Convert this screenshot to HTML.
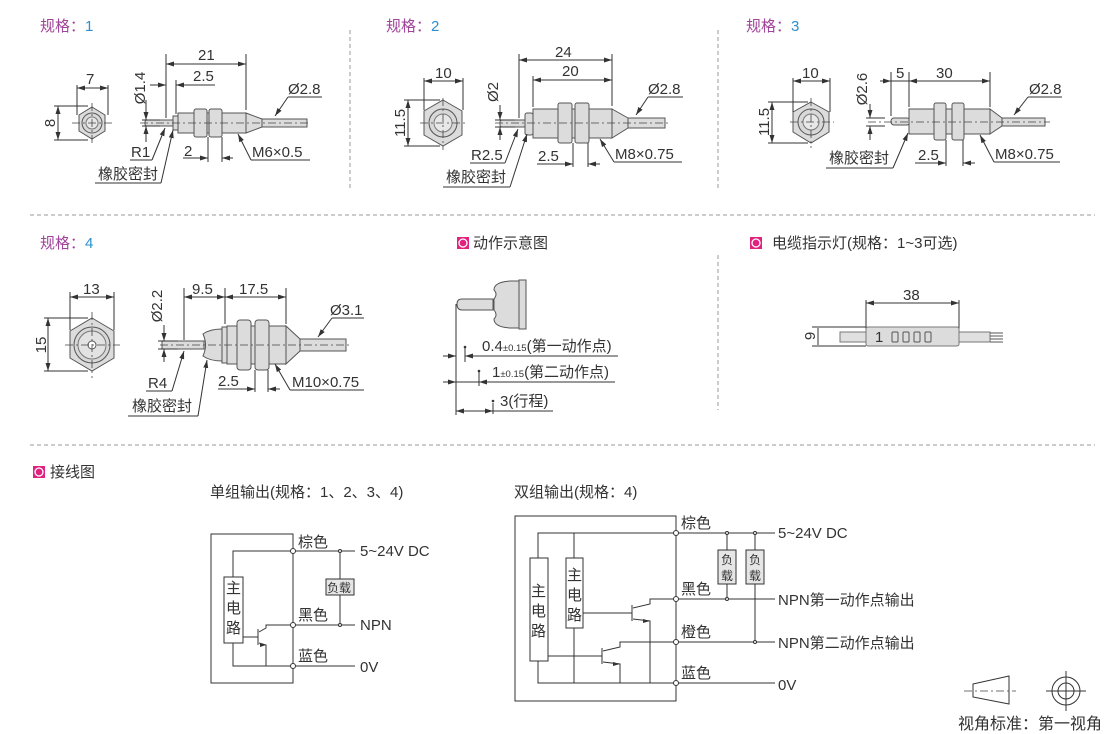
<!DOCTYPE html>
<html><head><meta charset="utf-8"><style>
html,body{margin:0;padding:0;background:#fff;}
svg{display:block;font-family:"Liberation Sans","Noto Sans CJK SC",sans-serif;}
.t{font-size:15px;fill:#333;}
.s{font-size:9.5px;fill:#333;}
.h{font-size:15px;fill:#333;}
.p{fill:#a0449a;font-size:15px;}
.b{fill:#2b8fd0;font-size:15px;}
.l{stroke:#333;stroke-width:1;fill:none;}
.d{stroke:#999;stroke-width:1;stroke-dasharray:4 3;fill:none;}
.c{stroke:#444;stroke-width:0.8;stroke-dasharray:8 3 2 3;fill:none;}
.bd{fill:#dcdcdc;stroke:#555;stroke-width:1;}
</style></head><body>
<svg width="1110" height="734" viewBox="0 0 1110 734" xmlns="http://www.w3.org/2000/svg">
<defs>
<marker id="a" markerWidth="8" markerHeight="6" refX="8" refY="3" orient="auto-start-reverse" markerUnits="userSpaceOnUse"><path d="M0,0.5 L8,3 L0,5.5z" fill="#333"/></marker>
<g id="icon"><rect x="0" y="0" width="12" height="12" fill="#e0237f"/><circle cx="6" cy="6" r="4" fill="none" stroke="#fff" stroke-width="1.3"/></g>
</defs>

<line class="d" x1="350" y1="30" x2="350" y2="188"/>
<line class="d" x1="718" y1="30" x2="718" y2="188"/>
<line class="d" x1="30" y1="215" x2="1095" y2="215"/>
<line class="d" x1="718" y1="255" x2="718" y2="410"/>
<line class="d" x1="30" y1="445" x2="1095" y2="445"/>

<text x="40" y="31" class="p">规格：<tspan class="b">1</tspan></text>
<text x="386" y="31" class="p">规格：<tspan class="b">2</tspan></text>
<text x="746" y="31" class="p">规格：<tspan class="b">3</tspan></text>
<text x="40" y="248" class="p">规格：<tspan class="b">4</tspan></text>
<use href="#icon" x="457" y="237"/><text x="473" y="248" class="h">动作示意图</text>
<use href="#icon" x="750" y="237"/><text x="772" y="248" class="h">电缆指示灯(规格：1~3可选)</text>
<use href="#icon" x="33" y="466"/><text x="50" y="477" class="h">接线图</text>

<!-- SPEC 1 -->
<polygon class="bd" points="92,107 105,115 105,131 92,139 79,131 79,115" fill="#e6e6e6"/>
<circle cx="92" cy="123" r="10" fill="#d8d8d8" stroke="#555"/><circle cx="92" cy="123" r="6" fill="#e8e8e8" stroke="#777"/>
<line class="c" x1="72" y1="123" x2="112" y2="123"/><line class="c" x1="92" y1="103" x2="92" y2="143"/>
<line class="l" x1="77" y1="85" x2="77" y2="115"/><line class="l" x1="108" y1="85" x2="108" y2="115"/>
<line class="l" x1="77" y1="88" x2="108" y2="88" marker-start="url(#a)" marker-end="url(#a)"/>
<text x="86" y="84" class="t">7</text>
<line class="l" x1="54" y1="106" x2="88" y2="106"/><line class="l" x1="54" y1="140" x2="88" y2="140"/>
<line class="l" x1="58" y1="106" x2="58" y2="140" marker-start="url(#a)" marker-end="url(#a)"/>
<text transform="translate(55,123) rotate(-90)" class="t" text-anchor="middle">8</text>
<rect class="bd" x="145" y="120" width="30" height="6" rx="2"/>
<rect class="bd" x="173" y="116" width="6" height="14"/>
<rect class="bd" x="178" y="113" width="68" height="20"/>
<rect class="bd" x="194" y="109" width="13" height="28" rx="2"/>
<rect class="bd" x="209" y="109" width="13" height="28" rx="2"/>
<polygon class="bd" points="246,113 262,119 262,127 246,133"/>
<rect class="bd" x="262" y="119" width="45" height="8"/>
<line class="c" x1="140" y1="123" x2="310" y2="123"/>
<line class="l" x1="166" y1="54" x2="166" y2="118"/><line class="l" x1="246" y1="54" x2="246" y2="110"/>
<line class="l" x1="166" y1="64" x2="246" y2="64" marker-start="url(#a)" marker-end="url(#a)"/>
<text x="198" y="60" class="t">21</text>
<line class="l" x1="176" y1="80" x2="176" y2="114"/>
<line class="l" x1="150" y1="85" x2="166" y2="85" marker-end="url(#a)"/><line class="l" x1="190" y1="85" x2="176" y2="85" marker-end="url(#a)"/>
<line class="l" x1="176" y1="85" x2="215" y2="85"/>
<text x="193" y="81" class="t">2.5</text>
<line class="l" x1="142" y1="120" x2="160" y2="120"/><line class="l" x1="142" y1="126" x2="160" y2="126"/>
<line class="l" x1="146" y1="100" x2="146" y2="120" marker-end="url(#a)"/><line class="l" x1="146" y1="142" x2="146" y2="126" marker-end="url(#a)"/>
<text transform="translate(145,88) rotate(-90)" class="t" text-anchor="middle">Ø1.4</text>
<line class="l" x1="130" y1="160" x2="152" y2="160"/><line class="l" x1="152" y1="160" x2="165" y2="128" marker-end="url(#a)"/>
<text x="131" y="157" class="t">R1</text>
<line class="l" x1="95" y1="183" x2="161" y2="183"/><line class="l" x1="161" y1="183" x2="173" y2="130" marker-end="url(#a)"/>
<text x="98" y="179" class="t">橡胶密封</text>
<line class="l" x1="208" y1="137" x2="208" y2="162"/><line class="l" x1="222" y1="137" x2="222" y2="162"/>
<line class="l" x1="183" y1="158" x2="208" y2="158" marker-end="url(#a)"/><line class="l" x1="233" y1="158" x2="222" y2="158" marker-end="url(#a)"/>
<text x="184" y="156" class="t">2</text>
<line class="l" x1="238" y1="134" x2="251" y2="160" marker-start="url(#a)"/><line class="l" x1="251" y1="160" x2="310" y2="160"/>
<text x="252" y="157" class="t">M6×0.5</text>
<line class="l" x1="275" y1="116" x2="288" y2="97" marker-start="url(#a)"/><line class="l" x1="288" y1="97" x2="322" y2="97"/>
<text x="288" y="94" class="t">Ø2.8</text>

<!-- SPEC 2 -->
<polygon class="bd" points="443,100 462,111 462,135 443,146 424,135 424,111" fill="#e6e6e6"/>
<circle cx="443" cy="123" r="14" fill="#d8d8d8" stroke="#555"/><circle cx="443" cy="123" r="9" fill="#e8e8e8" stroke="#777"/>
<line class="c" x1="420" y1="123" x2="468" y2="123"/><line class="c" x1="443" y1="98" x2="443" y2="150"/>
<line class="l" x1="424" y1="78" x2="424" y2="110"/><line class="l" x1="463" y1="78" x2="463" y2="110"/>
<line class="l" x1="424" y1="81" x2="463" y2="81" marker-start="url(#a)" marker-end="url(#a)"/>
<text x="435" y="78" class="t">10</text>
<line class="l" x1="404" y1="100" x2="440" y2="100"/><line class="l" x1="404" y1="146" x2="440" y2="146"/>
<line class="l" x1="408" y1="100" x2="408" y2="146" marker-start="url(#a)" marker-end="url(#a)"/>
<text transform="translate(405,123) rotate(-90)" class="t" text-anchor="middle">11.5</text>
<rect class="bd" x="500" y="120" width="26" height="7" rx="2"/>
<rect class="bd" x="525" y="113" width="8" height="22" rx="2"/>
<rect class="bd" x="533" y="109" width="79" height="29"/>
<rect class="bd" x="558" y="103" width="14" height="40" rx="2"/>
<rect class="bd" x="575" y="103" width="14" height="40" rx="2"/>
<polygon class="bd" points="612,109 628,118 628,128 612,138"/>
<rect class="bd" x="628" y="118" width="37" height="10"/>
<line class="c" x1="495" y1="123" x2="670" y2="123"/>
<line class="l" x1="519" y1="54" x2="519" y2="118"/><line class="l" x1="612" y1="54" x2="612" y2="106"/>
<line class="l" x1="519" y1="60" x2="612" y2="60" marker-start="url(#a)" marker-end="url(#a)"/>
<text x="555" y="57" class="t">24</text>
<line class="l" x1="533" y1="76" x2="533" y2="107"/>
<line class="l" x1="533" y1="80" x2="612" y2="80" marker-start="url(#a)" marker-end="url(#a)"/>
<text x="562" y="76" class="t">20</text>
<line class="l" x1="495" y1="120" x2="515" y2="120"/><line class="l" x1="495" y1="127" x2="515" y2="127"/>
<line class="l" x1="500" y1="105" x2="500" y2="120" marker-end="url(#a)"/><line class="l" x1="500" y1="140" x2="500" y2="127" marker-end="url(#a)"/>
<text transform="translate(498,92) rotate(-90)" class="t" text-anchor="middle">Ø2</text>
<line class="l" x1="470" y1="163" x2="505" y2="163"/><line class="l" x1="505" y1="163" x2="518" y2="129" marker-end="url(#a)"/>
<text x="471" y="160" class="t">R2.5</text>
<line class="l" x1="443" y1="187" x2="510" y2="187"/><line class="l" x1="510" y1="187" x2="527" y2="134" marker-end="url(#a)"/>
<text x="446" y="182" class="t">橡胶密封</text>
<line class="l" x1="573" y1="143" x2="573" y2="167"/><line class="l" x1="588" y1="143" x2="588" y2="167"/>
<line class="l" x1="537" y1="164" x2="573" y2="164" marker-end="url(#a)"/><line class="l" x1="600" y1="164" x2="588" y2="164" marker-end="url(#a)"/>
<text x="538" y="161" class="t">2.5</text>
<line class="l" x1="600" y1="139" x2="614" y2="162" marker-start="url(#a)"/><line class="l" x1="614" y1="162" x2="682" y2="162"/>
<text x="615" y="159" class="t">M8×0.75</text>
<line class="l" x1="636" y1="115" x2="648" y2="97" marker-start="url(#a)"/><line class="l" x1="648" y1="97" x2="683" y2="97"/>
<text x="648" y="94" class="t">Ø2.8</text>

<!-- SPEC 3 -->
<polygon class="bd" points="811,102 829,112 829,132 811,143 793,132 793,112" fill="#e6e6e6"/>
<circle cx="811" cy="122" r="13" fill="#d8d8d8" stroke="#555"/><circle cx="811" cy="122" r="8" fill="#e8e8e8" stroke="#777"/>
<line class="c" x1="790" y1="122" x2="834" y2="122"/><line class="c" x1="811" y1="98" x2="811" y2="148"/>
<line class="l" x1="793" y1="78" x2="793" y2="112"/><line class="l" x1="830" y1="78" x2="830" y2="112"/>
<line class="l" x1="793" y1="81" x2="830" y2="81" marker-start="url(#a)" marker-end="url(#a)"/>
<text x="802" y="78" class="t">10</text>
<line class="l" x1="768" y1="102" x2="808" y2="102"/><line class="l" x1="768" y1="143" x2="808" y2="143"/>
<line class="l" x1="772" y1="102" x2="772" y2="143" marker-start="url(#a)" marker-end="url(#a)"/>
<text transform="translate(769,122) rotate(-90)" class="t" text-anchor="middle">11.5</text>
<rect class="bd" x="891" y="118" width="19" height="7" rx="3"/>
<rect class="bd" x="909" y="109" width="81" height="25"/>
<rect class="bd" x="934" y="103" width="12" height="37" rx="2"/>
<rect class="bd" x="952" y="103" width="12" height="37" rx="2"/>
<polygon class="bd" points="990,109 1002,118 1002,126 990,134"/>
<rect class="bd" x="1002" y="118" width="43" height="8"/>
<line class="c" x1="868" y1="122" x2="1050" y2="122"/>
<line class="l" x1="891" y1="72" x2="891" y2="116"/><line class="l" x1="909" y1="72" x2="909" y2="107"/><line class="l" x1="990" y1="72" x2="990" y2="107"/>
<line class="l" x1="880" y1="81" x2="891" y2="81" marker-end="url(#a)"/><line class="l" x1="909" y1="81" x2="990" y2="81" marker-start="url(#a)" marker-end="url(#a)"/>
<line class="l" x1="891" y1="81" x2="909" y2="81"/>
<text x="896" y="78" class="t">5</text><text x="936" y="78" class="t">30</text>
<line class="l" x1="866" y1="118" x2="885" y2="118"/><line class="l" x1="866" y1="126" x2="885" y2="126"/>
<line class="l" x1="870" y1="104" x2="870" y2="118" marker-end="url(#a)"/><line class="l" x1="870" y1="140" x2="870" y2="126" marker-end="url(#a)"/>
<text transform="translate(867,89) rotate(-90)" class="t" text-anchor="middle">Ø2.6</text>
<line class="l" x1="826" y1="168" x2="893" y2="168"/><line class="l" x1="893" y1="168" x2="908" y2="133" marker-end="url(#a)"/>
<text x="829" y="163" class="t">橡胶密封</text>
<line class="l" x1="946" y1="140" x2="946" y2="166"/><line class="l" x1="963" y1="140" x2="963" y2="166"/>
<line class="l" x1="915" y1="163" x2="946" y2="163" marker-end="url(#a)"/><line class="l" x1="975" y1="163" x2="963" y2="163" marker-end="url(#a)"/>
<text x="918" y="160" class="t">2.5</text>
<line class="l" x1="980" y1="135" x2="994" y2="162" marker-start="url(#a)"/><line class="l" x1="994" y1="162" x2="1060" y2="162"/>
<text x="995" y="159" class="t">M8×0.75</text>
<line class="l" x1="1014" y1="115" x2="1028" y2="97" marker-start="url(#a)"/><line class="l" x1="1028" y1="97" x2="1062" y2="97"/>
<text x="1029" y="94" class="t">Ø2.8</text>

<!-- SPEC 4 -->
<polygon class="bd" points="92,318 114,331 114,358 92,371 70,358 70,331" fill="#e6e6e6"/>
<circle cx="92" cy="345" r="18" fill="#d8d8d8" stroke="#555"/><circle cx="92" cy="345" r="14" fill="#e2e2e2" stroke="#777"/><circle cx="92" cy="345" r="4" fill="#fff" stroke="#555"/>
<line class="c" x1="65" y1="345" x2="120" y2="345"/><line class="c" x1="92" y1="312" x2="92" y2="378"/>
<line class="l" x1="70" y1="292" x2="70" y2="330"/><line class="l" x1="114" y1="292" x2="114" y2="330"/>
<line class="l" x1="70" y1="297" x2="114" y2="297" marker-start="url(#a)" marker-end="url(#a)"/>
<text x="83" y="294" class="t">13</text>
<line class="l" x1="44" y1="318" x2="88" y2="318"/><line class="l" x1="44" y1="371" x2="88" y2="371"/>
<line class="l" x1="48" y1="318" x2="48" y2="371" marker-start="url(#a)" marker-end="url(#a)"/>
<text transform="translate(46,345) rotate(-90)" class="t" text-anchor="middle">15</text>
<rect class="bd" x="162" y="341" width="42" height="8"/>
<path class="bd" d="M203,334 Q210,329 222,329 L222,361 Q210,361 203,356 Q208,345 203,334z"/>
<rect class="bd" x="222" y="327" width="6" height="36"/>
<rect class="bd" x="227" y="326" width="59" height="38"/>
<rect class="bd" x="237" y="320" width="14" height="50" rx="3"/>
<rect class="bd" x="255" y="320" width="14" height="50" rx="3"/>
<polygon class="bd" points="286,326 300,339 300,351 286,364"/>
<rect class="bd" x="300" y="339" width="46" height="12"/>
<line class="c" x1="160" y1="345" x2="350" y2="345"/>
<line class="l" x1="184" y1="288" x2="184" y2="340"/><line class="l" x1="225" y1="288" x2="225" y2="324"/><line class="l" x1="286" y1="288" x2="286" y2="324"/>
<line class="l" x1="184" y1="297" x2="225" y2="297" marker-start="url(#a)" marker-end="url(#a)"/>
<line class="l" x1="225" y1="297" x2="286" y2="297" marker-start="url(#a)" marker-end="url(#a)"/>
<text x="192" y="294" class="t">9.5</text><text x="239" y="294" class="t">17.5</text>
<line class="l" x1="158" y1="341" x2="178" y2="341"/><line class="l" x1="158" y1="349" x2="178" y2="349"/>
<line class="l" x1="164" y1="325" x2="164" y2="341" marker-end="url(#a)"/><line class="l" x1="164" y1="362" x2="164" y2="349" marker-end="url(#a)"/>
<text transform="translate(162,306) rotate(-90)" class="t" text-anchor="middle">Ø2.2</text>
<line class="l" x1="146" y1="391" x2="172" y2="391"/><line class="l" x1="172" y1="391" x2="184" y2="351" marker-end="url(#a)"/>
<text x="148" y="388" class="t">R4</text>
<line class="l" x1="128" y1="416" x2="198" y2="416"/><line class="l" x1="198" y1="416" x2="207" y2="360" marker-end="url(#a)"/>
<text x="132" y="411" class="t">橡胶密封</text>
<line class="l" x1="255" y1="370" x2="255" y2="392"/><line class="l" x1="268" y1="370" x2="268" y2="392"/>
<line class="l" x1="218" y1="389" x2="255" y2="389" marker-end="url(#a)"/><line class="l" x1="280" y1="389" x2="268" y2="389" marker-end="url(#a)"/>
<text x="218" y="386" class="t">2.5</text>
<line class="l" x1="275" y1="364" x2="290" y2="390" marker-start="url(#a)"/><line class="l" x1="290" y1="390" x2="364" y2="390"/>
<text x="292" y="387" class="t">M10×0.75</text>
<line class="l" x1="318" y1="337" x2="332" y2="318" marker-start="url(#a)"/><line class="l" x1="332" y1="318" x2="364" y2="318"/>
<text x="330" y="315" class="t">Ø3.1</text>

<!-- ACTION -->
<path class="bd" d="M493,299 L462,299 Q457,299 457,304 Q457,310 462,310 L493,310z"/>
<path class="bd" d="M494,290 Q494,282 510,281 L520,281 L520,328 L510,328 Q494,327 494,319 Q498,315 494,310 L494,299 Q498,294 494,290z"/>
<rect class="bd" x="519" y="280" width="7" height="49"/>
<line class="l" x1="456" y1="304" x2="456" y2="415"/>
<line class="l" x1="443" y1="356" x2="456" y2="356" marker-end="url(#a)"/><line class="l" x1="475" y1="356" x2="465" y2="356" marker-end="url(#a)"/>
<line class="l" x1="465" y1="348" x2="465" y2="362"/><circle cx="465" cy="347" r="1.3" fill="#333"/>
<line class="l" x1="465" y1="356" x2="618" y2="356"/>
<text x="482" y="351" class="t">0.4<tspan class="s">±0.15</tspan>(第一动作点)</text>
<line class="l" x1="443" y1="382" x2="456" y2="382" marker-end="url(#a)"/><line class="l" x1="494" y1="382" x2="479" y2="382" marker-end="url(#a)"/>
<line class="l" x1="479" y1="372" x2="479" y2="386"/><circle cx="479" cy="371" r="1.3" fill="#333"/>
<line class="l" x1="456" y1="382" x2="615" y2="382"/>
<text x="492" y="377" class="t">1<tspan class="s">±0.15</tspan>(第二动作点)</text>
<line class="l" x1="456" y1="411" x2="493" y2="411" marker-start="url(#a)" marker-end="url(#a)"/>
<line class="l" x1="493" y1="403" x2="493" y2="414"/><circle cx="493" cy="401" r="1.3" fill="#333"/>
<line class="l" x1="493" y1="411" x2="553" y2="411"/>
<text x="500" y="406" class="t">3(行程)</text>

<!-- CABLE LED -->
<line class="l" x1="866" y1="300" x2="866" y2="330"/><line class="l" x1="959" y1="300" x2="959" y2="330"/>
<line class="l" x1="866" y1="303" x2="959" y2="303" marker-start="url(#a)" marker-end="url(#a)"/>
<text x="903" y="300" class="t">38</text>
<rect x="840" y="332" width="26" height="10" fill="#e0e0e0" stroke="#777"/>
<rect x="959" y="332" width="31" height="10" fill="#e0e0e0" stroke="#777"/>
<path d="M990,333 H1003 M990,336 H1003 M990,339 H1003 M990,342 H1003" stroke="#555" stroke-width="1"/>
<rect x="866" y="327" width="93" height="19" rx="2" fill="#dcdcdc" stroke="#777"/>
<text x="875" y="342" class="t">1</text>
<g fill="none" stroke="#555" stroke-width="1"><rect x="892" y="332" width="6" height="10" rx="1"/><rect x="903" y="332" width="6" height="10" rx="1"/><rect x="914" y="332" width="6" height="10" rx="1"/><rect x="925" y="332" width="6" height="10" rx="1"/></g>
<line class="l" x1="812" y1="327" x2="866" y2="327"/><line class="l" x1="812" y1="346" x2="866" y2="346"/>
<line class="l" x1="818" y1="328" x2="818" y2="345"/>
<text transform="translate(815,336) rotate(-90)" class="t" text-anchor="middle">9</text>

<!-- WIRING single -->
<text x="210" y="497" class="t">单组输出(规格：1、2、3、4)</text>
<rect x="211" y="534" width="82" height="149" class="l"/>
<path class="l" d="M233,577 V551 H293 M233,643 V666 H293"/>
<rect x="224" y="577" width="19" height="66" fill="#fff" stroke="#333"/>
<text x="226" y="593" class="t">主</text><text x="226" y="613" class="t">电</text><text x="226" y="633" class="t">路</text>
<path class="l" d="M243,637 H258 M258,629 V645 M259,632 L266,628 V625 H293 M259,643 L266,645 V666"/>
<path d="M266,645 l-6,-2 v4z" fill="#333"/>
<path class="l" d="M293,551 H355 M293,625 H355 M293,666 H355 M340,551 V625"/>
<circle cx="293" cy="551" r="2.5" fill="#fff" stroke="#333"/><circle cx="293" cy="625" r="2.5" fill="#fff" stroke="#333"/><circle cx="293" cy="666" r="2.5" fill="#fff" stroke="#333"/>
<circle cx="340" cy="551" r="1.5" fill="#fff" stroke="#333"/><circle cx="340" cy="625" r="1.5" fill="#fff" stroke="#333"/>
<rect x="326" y="579" width="28" height="16" fill="#e6e6e6" stroke="#333"/>
<text x="327" y="592" class="t" style="font-size:12px">负载</text>
<text x="298" y="547" class="t">棕色</text><text x="298" y="620" class="t">黑色</text><text x="298" y="661" class="t">蓝色</text>
<text x="360" y="556" class="t">5~24V DC</text><text x="360" y="630" class="t">NPN</text><text x="360" y="672" class="t">0V</text>

<!-- WIRING double -->
<text x="514" y="497" class="t">双组输出(规格：4)</text>
<rect x="515" y="516" width="161" height="185" class="l"/>
<path class="l" d="M538,558 V533 H676 M574,558 V533 M538,661 V683 H676 M574,628 V683"/>
<rect x="530" y="558" width="18" height="103" fill="#fff" stroke="#333"/>
<text x="531" y="596" class="t">主</text><text x="531" y="616" class="t">电</text><text x="531" y="636" class="t">路</text>
<rect x="566" y="558" width="17" height="70" fill="#fff" stroke="#333"/>
<text x="567" y="580" class="t">主</text><text x="567" y="600" class="t">电</text><text x="567" y="620" class="t">路</text>
<path class="l" d="M583,613 H632 M632,605 V621 M633,608 L650,604 V599 H676 M633,619 L650,621 V683"/>
<path d="M650,621 l-7,-2 v4z" fill="#333"/>
<path class="l" d="M548,656 H602 M602,648 V664 M603,651 L620,647 V642 H676 M603,662 L620,664 V683"/>
<path d="M620,664 l-7,-2 v4z" fill="#333"/>
<path class="l" d="M676,533 H775 M676,599 H775 M676,642 H775 M676,683 H775 M727,533 V599 M755,533 V642"/>
<circle cx="676" cy="533" r="2.5" fill="#fff" stroke="#333"/><circle cx="676" cy="599" r="2.5" fill="#fff" stroke="#333"/><circle cx="676" cy="642" r="2.5" fill="#fff" stroke="#333"/><circle cx="676" cy="683" r="2.5" fill="#fff" stroke="#333"/>
<circle cx="727" cy="533" r="1.5" fill="#fff" stroke="#333"/><circle cx="755" cy="533" r="1.5" fill="#fff" stroke="#333"/><circle cx="727" cy="599" r="1.5" fill="#fff" stroke="#333"/><circle cx="755" cy="642" r="1.5" fill="#fff" stroke="#333"/>
<rect x="718" y="550" width="18" height="34" fill="#e6e6e6" stroke="#333"/>
<text x="721" y="564" class="t" style="font-size:12px">负</text><text x="721" y="580" class="t" style="font-size:12px">载</text>
<rect x="746" y="550" width="18" height="34" fill="#e6e6e6" stroke="#333"/>
<text x="749" y="564" class="t" style="font-size:12px">负</text><text x="749" y="580" class="t" style="font-size:12px">载</text>
<text x="681" y="528" class="t">棕色</text><text x="681" y="594" class="t">黑色</text><text x="681" y="637" class="t">橙色</text><text x="681" y="678" class="t">蓝色</text>
<text x="778" y="538" class="t">5~24V DC</text><text x="778" y="605" class="t">NPN第一动作点输出</text><text x="778" y="648" class="t">NPN第二动作点输出</text><text x="778" y="690" class="t">0V</text>

<!-- view symbol -->
<polygon points="973,684 1009,676 1009,704 973,697" fill="none" stroke="#333"/>
<line class="c" x1="964" y1="691" x2="1016" y2="691"/>
<circle cx="1066" cy="691" r="14" fill="none" stroke="#333"/><circle cx="1066" cy="691" r="8" fill="none" stroke="#333"/>
<line class="l" x1="1046" y1="691" x2="1086" y2="691" stroke-width="0.8"/><line class="l" x1="1066" y1="671" x2="1066" y2="711" stroke-width="0.8"/>
<text x="958" y="729" class="t" style="font-size:16px">视角标准：第一视角</text>
</svg>
</body></html>
